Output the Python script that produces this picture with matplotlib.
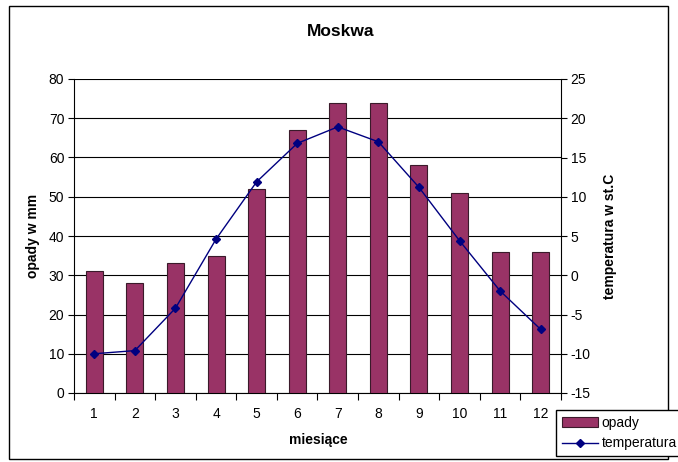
import matplotlib
matplotlib.use("Agg")
import matplotlib.pyplot as plt
from matplotlib.patches import Rectangle
from matplotlib.lines import Line2D
from matplotlib.patches import Patch

plt.rcParams['font.family'] = ['Liberation Sans', 'DejaVu Sans']
plt.rcParams['axes.unicode_minus'] = False

months = [1, 2, 3, 4, 5, 6, 7, 8, 9, 10, 11, 12]
month_labels = ["1", "2", "3", "4", "5", "6", "7", "8", "9", "10", "11", "12"]
opady = [31, 28, 33, 35, 52, 67, 74, 74, 58, 51, 36, 36]
temperatura = [-10.0, -9.6, -4.2, 4.6, 11.9, 16.8, 18.9, 17.0, 11.2, 4.4, -2.0, -6.9]

fig = plt.figure(figsize=(6.78, 4.62), dpi=100)
# chart border
fig.patches.append(Rectangle((9/678, 1 - 459/462), 659/678, 453/462, transform=fig.transFigure,
                             fill=False, edgecolor='black', linewidth=1.0))

ax = fig.add_axes([74/678, 1 - 393/462, 487/678, 314/462])
ax2 = ax.twinx()

ax.bar(months, opady, width=0.42, color='#993366', edgecolor='#3a1a2a', linewidth=0.8, zorder=3)
ax.set_xlim(0.5, 12.5)
ax.set_ylim(0, 80)
ax.set_yticks(range(0, 81, 10))
ax.yaxis.grid(True, color='black', linewidth=0.8, zorder=0)
ax.set_axisbelow(True)
ax.set_xticks(months)
ax.set_xticklabels(month_labels)
ax.set_xticks([m + 0.5 for m in [0] + months], minor=True)
ax.tick_params(axis='x', which='major', length=0, pad=10, labelsize=10)
ax.tick_params(axis='x', which='minor', length=5, direction='out', width=0.8)
ax.tick_params(axis='y', length=4, direction='out', width=0.8, labelsize=10, pad=3)
ax.spines['top'].set_visible(False)
ax.spines['right'].set_visible(False)

ax2.plot(months, temperatura, color='#000080', linewidth=1.0, marker='D', markersize=4.5,
         markerfacecolor='#000080', markeredgecolor='#000080', zorder=4)
ax2.set_ylim(-15, 25)
ax2.set_yticks(range(-15, 26, 5))
ax2.tick_params(axis='y', length=4, direction='out', width=0.8, labelsize=10, pad=3)
ax2.spines['top'].set_visible(False)
ax2.spines['left'].set_visible(False)
ax2.spines['bottom'].set_visible(False)

fig.text(341/678, 1 - 31/462, "Moskwa", ha='center', va='center', fontsize=12.5, fontweight='bold')
fig.text(318/678, 1 - 440/462, "miesiące", ha='center', va='center', fontsize=10, fontweight='bold')
fig.text(33/678, 1 - 236/462, "opady w mm", ha='center', va='center', fontsize=10, fontweight='bold', rotation=90)
fig.text(610/678, 1 - 236/462, "temperatura w st.C", ha='center', va='center', fontsize=10, fontweight='bold', rotation=90)

handles = [Patch(facecolor='#993366', edgecolor='#3a1a2a', linewidth=0.8),
           Line2D([], [], color='#000080', marker='D', markersize=4, linewidth=1.0)]
leg = fig.legend(handles, ['opady', 'temperatura'], loc='lower left',
                 bbox_to_anchor=(556/678, 1 - 456/462), fontsize=10, frameon=True,
                 fancybox=False, edgecolor='black', framealpha=1, borderpad=0.4,
                 handlelength=2.6, handletextpad=0.3, labelspacing=0.5, borderaxespad=0)
leg.get_frame().set_linewidth(1.0)

fig.savefig("out.png", dpi=100)
